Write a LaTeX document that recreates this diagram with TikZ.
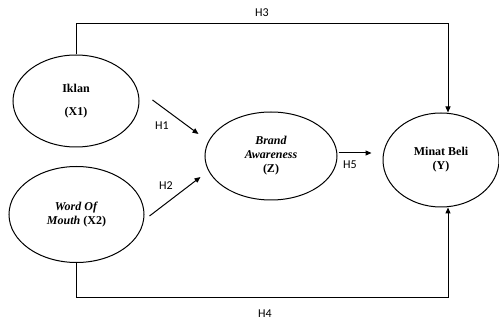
\documentclass[tikz,border=0pt]{standalone}
\usepackage{fontspec}
\setmainfont{Liberation Serif}
\newfontfamily\hfont{Carlito}
\usetikzlibrary{shapes.geometric, arrows.meta, positioning, calc}

\begin{document}
\begin{tikzpicture}[x=1pt, y=-1pt,
  var/.style={draw, ellipse, line width=1pt, inner sep=0pt, align=center,
    font=\bfseries\fontsize{12}{14}\selectfont},
  path/.style={line width=1pt, -{Triangle[length=6pt,width=5pt]}},
  hyp/.style={font=\hfont\fontsize{12}{14}\selectfont}]

	\useasboundingbox (0,0) rectangle (499,320);

	% Variables
	\node[var, minimum width=126pt, minimum height=92pt] (iklan) at (76,101) {Iklan\\[9pt](X1)};
	\node[var, minimum width=135pt, minimum height=96pt] (wom) at (76.5,214.5) {\textit{Word Of}\\\textit{Mouth} (X2)};
	\node[var, minimum width=132pt, minimum height=88pt] (brand) at (271,156) {\textit{Brand}\\\textit{Awareness}\\(Z)};
	\node[var, minimum width=116pt, minimum height=94pt] (minat) at (441,160) {Minat Beli\\(Y)};

	% Direct paths
	\draw[path] ([shift={(13,-1)}]iklan.east) -- ([shift={(-6,-22)}]brand.west);
	\draw[path] ([shift={(5,1.5)}]wom.east) -- ([shift={(-4,21)}]brand.west);
	\draw[path] ([shift={(1,-3)}]brand.east) -- ([shift={(-11,-7)}]minat.west);

	% Outer paths
	\draw[path] (iklan.north) -- ++(0,-31) -| ([xshift=7pt]minat.north);
	\draw[path] (wom.south) -- ++(0,35) -| ([xshift=7pt]minat.south);

	% Hypothesis labels
	\node[hyp] (h1) at (162,126) {H1};
	\node[hyp] (h2) at (166,186) {H2};
	\node[hyp] (h3) at (262,13) {H3};
	\node[hyp] (h4) at (265,314) {H4};
	\node[hyp] (h5) at (350,165) {H5};

\end{tikzpicture}
\end{document}
